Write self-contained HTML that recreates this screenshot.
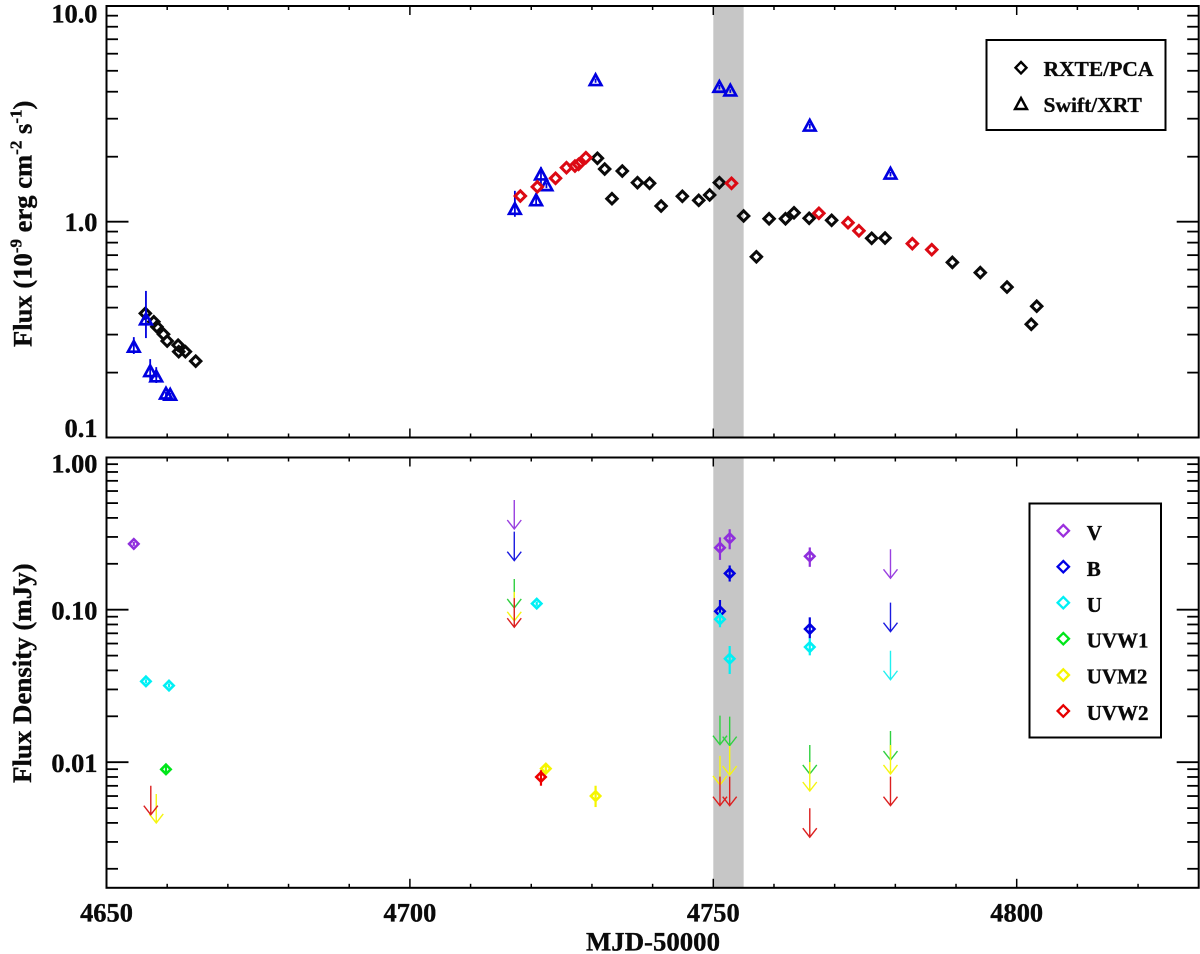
<!DOCTYPE html>
<html lang="en">
<head>
<meta charset="utf-8">
<title>Flux and flux density light curves</title>
<style>
  html, body { margin: 0; padding: 0; background: #fff; }
  svg { display: block; }
  text { font-family: "Liberation Serif", serif; font-weight: bold; fill: #0a0a0a; stroke: #0a0a0a; stroke-width: 0.35px; }
</style>
</head>
<body>
<svg id="chart" xmlns="http://www.w3.org/2000/svg" width="1200" height="954" viewBox="0 0 1200 954">
  <rect x="0" y="0" width="1200" height="954" fill="#fff"/>
  <g id="bands"></g>
  <g id="ticks"></g>
  <rect x="106.5" y="6" width="1092.2" height="431.5" fill="none" stroke="#000" stroke-width="2"/>
  <rect x="106.5" y="457.5" width="1092.2" height="430.3" fill="none" stroke="#000" stroke-width="2"/>
  <g id="labels" font-size="26.4"></g>
  <g id="topMarks"></g>
  <g id="botMarks"></g>

  <text transform="translate(31.7,347) rotate(-90)" font-size="26.6">Flux (10<tspan font-size="17" dy="-10">-9</tspan><tspan dy="10"> erg cm</tspan><tspan font-size="17" dy="-10">-2</tspan><tspan dy="10"> s</tspan><tspan font-size="17" dy="-10">-1</tspan><tspan dy="10">)</tspan></text>
  <text transform="translate(31,783) rotate(-90)" font-size="26.9">Flux Density (mJy)</text>
  <text x="653" y="950.5" text-anchor="middle" font-size="26.8">MJD-50000</text>

  <g>
    <rect x="986.5" y="40" width="179" height="90" fill="#fff" stroke="#000" stroke-width="2"/>
    <path d="M1021 62 L1026.5 67.7 L1021 73.4 L1015.5 67.7 Z" fill="none" stroke="#000" stroke-width="2.4"/>
    <path d="M1021 98 L1027 109 L1015 109 Z" fill="none" stroke="#000" stroke-width="2.4"/>
    <text x="1043.5" y="76" font-size="21.5">RXTE/PCA</text>
    <text x="1043.5" y="112" font-size="21.5">Swift/XRT</text>
  </g>

  <g>
    <rect x="1029.5" y="503.5" width="131.5" height="234" fill="#fff" stroke="#000" stroke-width="2"/>
    <path d="M1063.3 525 L1069 530.7 L1063.3 536.4 L1057.6 530.7 Z" fill="none" stroke="#9b30dd" stroke-width="2.3"/>
    <path d="M1063.3 561 L1069 566.7 L1063.3 572.4 L1057.6 566.7 Z" fill="none" stroke="#0000e6" stroke-width="2.3"/>
    <path d="M1063.3 597 L1069 602.7 L1063.3 608.4 L1057.6 602.7 Z" fill="none" stroke="#00f0f5" stroke-width="2.3"/>
    <path d="M1063.3 633 L1069 638.7 L1063.3 644.4 L1057.6 638.7 Z" fill="none" stroke="#00e61a" stroke-width="2.3"/>
    <path d="M1063.3 669.3 L1069 675 L1063.3 680.7 L1057.6 675 Z" fill="none" stroke="#f5f500" stroke-width="2.3"/>
    <path d="M1063.3 705.3 L1069 711 L1063.3 716.7 L1057.6 711 Z" fill="none" stroke="#e60000" stroke-width="2.3"/>
    <text x="1086.7" y="540" font-size="21">V</text>
    <text x="1086.7" y="576" font-size="21">B</text>
    <text x="1086.7" y="612" font-size="21">U</text>
    <text x="1086.7" y="647.7" font-size="21">UVW1</text>
    <text x="1086.7" y="683.7" font-size="21">UVM2</text>
    <text x="1086.7" y="720" font-size="21">UVW2</text>
  </g>
</svg>

<script>
// ---------- tick labels ----------
const xTickValues = [4650, 4700, 4750, 4800];
const topYTicks = [10, 1, 0.1];
const topYTickLabels = ["10.0", "1.0", "0.1"];
const botYTicks = [1, 0.1, 0.01];
const botYTickLabels = ["1.00", "0.10", "0.01"];
const bandRange = [4750, 4755];
const topMinorTicks = [0.2,0.3,0.4,0.5,0.6,0.7,0.8,0.9,2,3,4,5,6,7,8,9];
const topMajorTicks = [1];
const botMinorTicks = [0.002,0.003,0.004,0.005,0.006,0.007,0.008,0.009,0.02,0.03,0.04,0.05,0.06,0.07,0.08,0.09,0.2,0.3,0.4,0.5,0.6,0.7,0.8,0.9];
const botMajorTicks = [0.1, 0.01];

// ---------- top panel: RXTE/PCA (black) ----------
const rxteBlackT = [4656.4,4657.8,4658.3,4659.4,4660,4661.8,4661.9,4663,4664.7,4730.9,4732.1,4733.3,4735,4737.5,4739.5,4741.4,4744.9,4747.6,4749.4,4751,4755,4757.1,4759.2,4761.9,4763.3,4765.8,4769.5,4776.1,4778.3,4789.4,4794,4798.4,4802.4,4803.3];
const rxteBlackF = [0.376,0.344,0.326,0.301,0.280,0.268,0.25,0.25,0.226,1.967,1.754,1.278,1.717,1.516,1.506,1.182,1.311,1.256,1.33,1.516,1.063,0.688,1.032,1.032,1.10,1.037,1.015,0.838,0.84,0.648,0.581,0.498,0.335,0.406];
// ---------- top panel: RXTE/PCA (red, simultaneous) ----------
const rxteRedT = [4718.2,4721,4724,4725.8,4727.2,4727.8,4729,4753,4767.4,4772.2,4774,4782.8,4786];
const rxteRedF = [1.315,1.45,1.589,1.78,1.81,1.845,1.98,1.506,1.094,0.989,0.908,0.791,0.742];
// ---------- top panel: Swift/XRT (blue) ----------
const swiftT  = [4654.5,4656.5,4657.2,4658.2,4659.8,4660.5,4717.3,4720.8,4721.6,4722.5,4730.6,4751,4752.8,4765.9,4779.2];
const swiftF  = [0.262,0.351,0.202,0.191,0.159,0.157,1.14,1.25,1.645,1.468,4.5,4.19,4.03,2.77,1.66];
const swiftLo = [0.244,0.289,0.181,0.179,0.155,0.153,1.054,1.182,1.495,1.43,4.4,4.1,3.95,2.7,1.62];
const swiftHi = [0.292,0.478,0.231,0.212,0.163,0.161,1.39,1.354,1.79,1.51,4.6,4.3,4.1,2.84,1.7];

// ---------- bottom panel: detections ----------
const vT = [4654.5,4751.1,4752.7,4765.9];
const vF = [0.27,0.255,0.294,0.224];
const vLo = [0.262,0.212,0.249,0.191];
const vHi = [0.278,0.298,0.337,0.256];
const bT = [4752.7,4751.1,4765.9];
const bF = [0.173,0.0976,0.0747];
const bLo = [0.153,0.0909,0.0649];
const bHi = [0.195,0.1158,0.0891];
const uT = [4656.5,4660.3,4720.9,4751.1,4752.7,4765.9];
const uF = [0.0339,0.0318,0.1096,0.0865,0.0477,0.0569];
const uLo = [0.0329,0.0309,0.106,0.0767,0.0379,0.0502];
const uHi = [0.0349,0.0328,0.113,0.0956,0.0578,0.0649];
const uvw1T = [4659.8];
const uvw1F = [0.00898];
const uvw1Lo = [0.0084];
const uvw1Hi = [0.0096];
const uvm2T = [4722.4,4730.6];
const uvm2F = [0.00907,0.006];
const uvm2Lo = [0.0087,0.00508];
const uvm2Hi = [0.0095,0.00701];
const uvw2T = [4721.6];
const uvw2F = [0.008];
const uvw2Lo = [0.00701];
const uvw2Hi = [0.00886];

// ---------- bottom panel: upper limits ----------
const vLimT = [4717.2,4779.2];
const vLimF = [0.524,0.249];
const bLimT = [4717.2,4779.2];
const bLimF = [0.325,0.1112];
const uLimT = [4779.2];
const uLimF = [0.0538];
const uvw1LimT = [4717.2,4751.1,4752.7,4765.9,4779.2];
const uvw1LimF = [0.159,0.0202,0.0199,0.01297,0.01601];
const uvm2LimT = [4658.2,4717.2,4751.1,4752.7,4765.9,4779.2];
const uvm2LimF = [0.00619,0.131,0.011,0.01277,0.01003,0.01297];
const uvw2LimT = [4657.3,4717.2,4751.1,4752.7,4765.9,4779.2];
const uvw2LimF = [0.00701,0.119,0.00804,0.00804,0.00499,0.00804];

// ---------- axis functions ----------
const NS = 'http://www.w3.org/2000/svg';
const xAxis = v => 106.5 + 6.068 * (v - 4650);
const yTop = v => 221.7 - 215.9 * Math.log10(v);
const yBot = v => 609.7 - 152.5 * Math.log10(v / 0.1);
const TOP_A = 6, TOP_B = 437.5, BOT_A = 457.5, BOT_B = 887.8, LEFT = 106.5, RIGHT = 1198.7;

function line(parent, x1, y1, x2, y2, color, w) {
  const el = document.createElementNS(NS, 'line');
  el.setAttribute('x1', x1); el.setAttribute('y1', y1);
  el.setAttribute('x2', x2); el.setAttribute('y2', y2);
  el.setAttribute('stroke', color); el.setAttribute('stroke-width', w);
  parent.appendChild(el);
  return el;
}
function diamond(parent, x, y, r, color, w) {
  const el = document.createElementNS(NS, 'path');
  el.setAttribute('d', `M${x} ${y - r}L${x + r} ${y}L${x} ${y + r}L${x - r} ${y}Z`);
  el.setAttribute('fill', 'none');
  el.setAttribute('stroke', color);
  el.setAttribute('stroke-width', w);
  parent.appendChild(el);
  return el;
}
function triangle(parent, x, y, color) {
  const el = document.createElementNS(NS, 'path');
  el.setAttribute('d', `M${x} ${y - 6.2}L${x + 5.8} ${y + 4.4}L${x - 5.8} ${y + 4.4}Z`);
  el.setAttribute('fill', 'none');
  el.setAttribute('stroke', color);
  el.setAttribute('stroke-width', 2.7);
  parent.appendChild(el);
  return el;
}
function arrow(parent, x, y, color) {
  const el = document.createElementNS(NS, 'path');
  el.setAttribute('d', `M${x} ${y}V${y + 29}M${x - 7} ${y + 20}L${x} ${y + 29}L${x + 7} ${y + 20}`);
  el.setAttribute('fill', 'none');
  el.setAttribute('stroke', color);
  el.setAttribute('stroke-width', 1.4);
  parent.appendChild(el);
  return el;
}
function label(parent, x, y, anchor, txt) {
  const el = document.createElementNS(NS, 'text');
  el.setAttribute('x', x); el.setAttribute('y', y);
  el.setAttribute('text-anchor', anchor);
  el.textContent = txt;
  parent.appendChild(el);
  return el;
}

// ---------- highlight bands ----------
const bands = document.getElementById('bands');
[[TOP_A, TOP_B], [BOT_A, BOT_B]].forEach(([a, b]) => {
  const el = document.createElementNS(NS, 'rect');
  el.setAttribute('x', xAxis(bandRange[0]));
  el.setAttribute('y', a);
  el.setAttribute('width', xAxis(bandRange[1]) - xAxis(bandRange[0]));
  el.setAttribute('height', b - a);
  el.setAttribute('fill', '#c6c6c6');
  
  
  bands.appendChild(el);
});

// ---------- ticks ----------
const ticks = document.getElementById('ticks');
for (let v = 4650; v <= 4830; v += 10) {
  const len = (v % 50 === 0) ? 9 : 4;
  const x = xAxis(v);
  [[TOP_A, 1], [TOP_B, -1], [BOT_A, 1], [BOT_B, -1]].forEach(([y, s]) => {
    const t = line(ticks, x, y, x, y + s * len, '#000', 1.5);
    
    
  });
}
function yTicks(fn, values, len) {
  values.forEach(val => {
    const y = fn(val);
    const l = line(ticks, LEFT, y, LEFT + len, y, '#000', 1.8);
    
    
    const r = line(ticks, RIGHT, y, RIGHT - len, y, '#000', 1.8);
    
    
  });
}
yTicks(yTop, topMinorTicks, 11.5);
yTicks(yTop, topMajorTicks, 22);
yTicks(yBot, botMinorTicks, 11.5);
yTicks(yBot, botMajorTicks, 22);

// ---------- tick labels ----------
const labels = document.getElementById('labels');
xTickValues.forEach(v => {
  const t = label(labels, xAxis(v), 921.5, 'middle', String(v));
  
  
});
topYTicks.forEach((v, i) => {
  const y = Math.min(yTop(v) + 9.4, 437);
  const yy = v === 10 ? 22.7 : y;
  const t = label(labels, 97.5, yy, 'end', topYTickLabels[i]);
  
  
});
botYTicks.forEach((v, i) => {
  const yy = v === 1 ? 472.7 : yBot(v) + 10;
  const t = label(labels, 97.5, yy, 'end', botYTickLabels[i]);
  
  
});

// ---------- top panel marks ----------
const topMarks = document.getElementById('topMarks');
rxteBlackT.forEach((t, i) => {
  const m = diamond(topMarks, xAxis(t), yTop(rxteBlackF[i]), 5.2, '#0a0a0a', 3);
  
  
});
swiftT.forEach((t, i) => {
  const x = xAxis(t);
  const e = line(topMarks, x, yTop(swiftHi[i]), x, yTop(swiftLo[i]), '#0000e0', 1.8);
  
  
  const m = triangle(topMarks, x, yTop(swiftF[i]), '#0000e0');
  
  
});
rxteRedT.forEach((t, i) => {
  const m = diamond(topMarks, xAxis(t), yTop(rxteRedF[i]), 5.2, '#dc0a14', 3);
  
  
});

// ---------- bottom panel marks ----------
const botMarks = document.getElementById('botMarks');
function detections(T, F, Lo, Hi, color) {
  const out = [];
  T.forEach((t, i) => {
    const x = xAxis(t);
    const e = line(botMarks, x, yBot(Hi[i]), x, yBot(Lo[i]), color, 2.2);
    const m = diamond(botMarks, x, yBot(F[i]), 4.7, color, 2.6);
    out.push(e, m);
  });
  return out;
}
function limits(T, F, color) {
  return T.map((t, i) => arrow(botMarks, xAxis(t), yBot(F[i]), color));
}
detections(vT, vF, vLo, vHi, '#8f2fdc').forEach(el => {
  
  
});
limits(vLimT, vLimF, '#9a40e0').forEach(el => {
  
  
});
detections(bT, bF, bLo, bHi, '#0000e0').forEach(el => {
  
  
});
limits(bLimT, bLimF, '#1a1ae0').forEach(el => {
  
  
});
detections(uT, uF, uLo, uHi, '#00f0f5').forEach(el => {
  
  
});
limits(uLimT, uLimF, '#20f0f0').forEach(el => {
  
  
});
detections(uvw1T, uvw1F, uvw1Lo, uvw1Hi, '#00e61a').forEach(el => {
  
  
});
limits(uvw1LimT, uvw1LimF, '#30d040').forEach(el => {
  
  
});
detections(uvm2T, uvm2F, uvm2Lo, uvm2Hi, '#f5f500').forEach(el => {
  
  
});
limits(uvm2LimT, uvm2LimF, '#f5f510').forEach(el => {
  
  
});
detections(uvw2T, uvw2F, uvw2Lo, uvw2Hi, '#ee0000').forEach(el => {
  
  
});
limits(uvw2LimT, uvw2LimF, '#dc2020').forEach(el => {
  
  
});
</script>
</body>
</html>
